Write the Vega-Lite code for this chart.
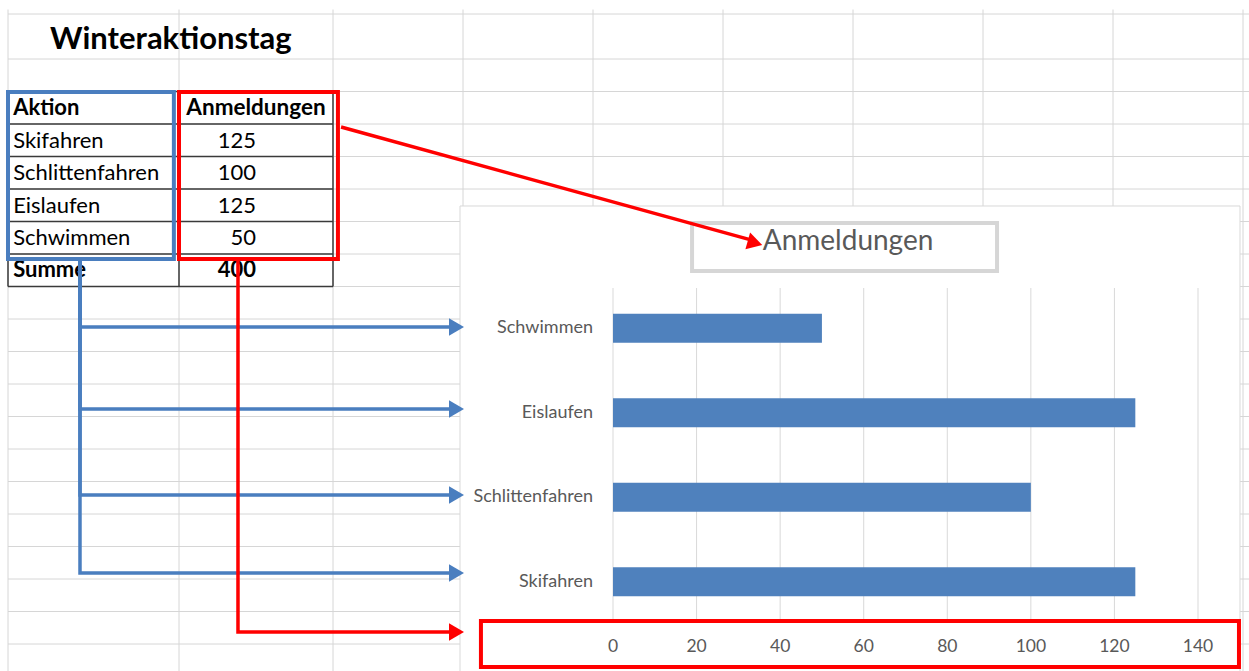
{
  "$schema": "https://vega.github.io/schema/vega-lite/v6.json",
  "width": 1249,
  "height": 671,
  "autosize": "none",
  "padding": 0,
  "background": "white",
  "config": {"view": {"stroke": null}, "axis": {"disable": true}, "font": "Lato"},
  "datasets": {
    "aktionen": [
      {"Aktion": "Skifahren", "Anmeldungen": 125, "Zeile": 4},
      {"Aktion": "Schlittenfahren", "Anmeldungen": 100, "Zeile": 5},
      {"Aktion": "Eislaufen", "Anmeldungen": 125, "Zeile": 6},
      {"Aktion": "Schwimmen", "Anmeldungen": 50, "Zeile": 7}
    ],
    "zeilen": [{"r": 0}, {"r": 1}, {"r": 2}, {"r": 3}, {"r": 4}, {"r": 5}, {"r": 6}, {"r": 7}, {"r": 8}, {"r": 9}, {"r": 10}, {"r": 11}, {"r": 12}, {"r": 13}, {"r": 14}, {"r": 15}, {"r": 16}, {"r": 17}, {"r": 18}, {"r": 19}, {"r": 20}],
    "spalten": [{"c": 0}, {"c": 1}, {"c": 2}, {"c": 3}, {"c": 4}, {"c": 5}, {"c": 6}, {"c": 7}, {"c": 8}, {"c": 9}],
    "skala": [{"v": 0}, {"v": 20}, {"v": 40}, {"v": 60}, {"v": 80}, {"v": 100}, {"v": 120}, {"v": 140}],
    "pfeile": [
      {"pfeil": "b1", "gruppe": "Aktion", "i": 1, "c": 0.421, "r": 7.19},
      {"pfeil": "b1", "gruppe": "Aktion", "i": 2, "c": 0.421, "r": 9.246},
      {"pfeil": "b1", "gruppe": "Aktion", "i": 3, "c": 2.915, "r": 9.246},
      {"pfeil": "b2", "gruppe": "Aktion", "i": 1, "c": 0.421, "r": 7.19},
      {"pfeil": "b2", "gruppe": "Aktion", "i": 2, "c": 0.421, "r": 11.769},
      {"pfeil": "b2", "gruppe": "Aktion", "i": 3, "c": 2.915, "r": 11.769},
      {"pfeil": "b3", "gruppe": "Aktion", "i": 1, "c": 0.421, "r": 7.19},
      {"pfeil": "b3", "gruppe": "Aktion", "i": 2, "c": 0.421, "r": 14.415},
      {"pfeil": "b3", "gruppe": "Aktion", "i": 3, "c": 2.915, "r": 14.415},
      {"pfeil": "b4", "gruppe": "Aktion", "i": 1, "c": 0.421, "r": 7.19},
      {"pfeil": "b4", "gruppe": "Aktion", "i": 2, "c": 0.421, "r": 16.815},
      {"pfeil": "b4", "gruppe": "Aktion", "i": 3, "c": 2.915, "r": 16.815},
      {"pfeil": "r1", "gruppe": "Anmeldungen", "i": 1, "c": 1.383, "r": 7.19},
      {"pfeil": "r1", "gruppe": "Anmeldungen", "i": 2, "c": 1.383, "r": 18.63},
      {"pfeil": "r1", "gruppe": "Anmeldungen", "i": 3, "c": 2.915, "r": 18.63},
      {"pfeil": "r2", "gruppe": "Anmeldungen", "i": 1, "c": 2.062, "r": 3.092},
      {"pfeil": "r2", "gruppe": "Anmeldungen", "i": 2, "c": 5.2, "r": 6.55}
    ],
    "spitzen": [
      {"gruppe": "Aktion", "c": 2.95, "r": 9.246, "winkel": 0},
      {"gruppe": "Aktion", "c": 2.95, "r": 11.769, "winkel": 0},
      {"gruppe": "Aktion", "c": 2.95, "r": 14.415, "winkel": 0},
      {"gruppe": "Aktion", "c": 2.95, "r": 16.815, "winkel": 0},
      {"gruppe": "Anmeldungen", "c": 2.95, "r": 18.63, "winkel": 0},
      {"gruppe": "Anmeldungen", "c": 5.246, "r": 6.66, "winkel": 15.7}
    ],
    "rahmen": [
      {"gruppe": "Aktion", "c1": 0.0, "c2": 0.97, "r1": 2.015, "r2": 7.154},
      {"gruppe": "Anmeldungen", "c1": 1.0, "c2": 2.038, "r1": 2.015, "r2": 7.154},
      {"gruppe": "Anmeldungen", "c1": 3.138, "c2": 8.969, "r1": 18.29, "r2": 19.71}
    ]
  },
  "resolve": {"scale": {"x": "independent", "y": "independent"}},
  "layer": [
    {
      "data": {"name": "zeilen"},
      "mark": {"type": "rule", "color": "#d6d6d6", "strokeWidth": 1},
      "encoding": {
        "y": {"field": "r", "type": "quantitative", "scale": {"domain": [0, 1, 20], "range": [14, 59, 676.5], "nice": false, "zero": false}},
        "x": {"datum": 0, "type": "quantitative", "scale": {"domain": [0, 1, 2, 10], "range": [8, 179, 333, 1373], "nice": false, "zero": false}},
        "x2": {"datum": 9.1}
      }
    },
    {
      "data": {"name": "spalten"},
      "mark": {"type": "rule", "color": "#d6d6d6", "strokeWidth": 1},
      "encoding": {
        "x": {"field": "c", "type": "quantitative", "scale": {"domain": [0, 1, 2, 10], "range": [8, 179, 333, 1373], "nice": false, "zero": false}},
        "y": {"datum": -0.1, "type": "quantitative", "scale": {"domain": [0, 1, 20], "range": [14, 59, 676.5], "nice": false, "zero": false}},
        "y2": {"datum": 20.5}
      }
    },
    {
      "data": {"name": "zeilen"},
      "transform": [{"filter": "datum.r >= 2 && datum.r <= 8"}],
      "mark": {"type": "rule", "color": "#3a3a3a", "strokeWidth": 1.5},
      "encoding": {
        "y": {"field": "r", "type": "quantitative", "scale": {"domain": [0, 1, 20], "range": [14, 59, 676.5], "nice": false, "zero": false}},
        "x": {"datum": 0, "type": "quantitative", "scale": {"domain": [0, 1, 2, 10], "range": [8, 179, 333, 1373], "nice": false, "zero": false}},
        "x2": {"datum": 2}
      }
    },
    {
      "data": {"name": "spalten"},
      "transform": [{"filter": "datum.c <= 2"}],
      "mark": {"type": "rule", "color": "#3a3a3a", "strokeWidth": 1.5},
      "encoding": {
        "x": {"field": "c", "type": "quantitative", "scale": {"domain": [0, 1, 2, 10], "range": [8, 179, 333, 1373], "nice": false, "zero": false}},
        "y": {"datum": 2, "type": "quantitative", "scale": {"domain": [0, 1, 20], "range": [14, 59, 676.5], "nice": false, "zero": false}},
        "y2": {"datum": 8}
      }
    },
    {
      "data": {"values": [{}]},
      "mark": {"type": "text", "text": "Winteraktionstag", "fontSize": 31, "fontWeight": "bold", "align": "left", "baseline": "middle", "color": "#000000"},
      "encoding": {
        "x": {"datum": 0.2456, "type": "quantitative", "scale": {"domain": [0, 1, 2, 10], "range": [8, 179, 333, 1373], "nice": false, "zero": false}},
        "y": {"datum": 0.57, "type": "quantitative", "scale": {"domain": [0, 1, 20], "range": [14, 59, 676.5], "nice": false, "zero": false}}
      }
    },
    {
      "data": {"values": [{}]},
      "mark": {"type": "text", "text": "Aktion", "fontSize": 22, "fontWeight": "bold", "align": "left", "baseline": "middle", "color": "#000000"},
      "encoding": {
        "x": {"datum": 0.03, "type": "quantitative", "scale": {"domain": [0, 1, 2, 10], "range": [8, 179, 333, 1373], "nice": false, "zero": false}},
        "y": {"datum": 2.5, "type": "quantitative", "scale": {"domain": [0, 1, 20], "range": [14, 59, 676.5], "nice": false, "zero": false}}
      }
    },
    {
      "data": {"values": [{}]},
      "mark": {"type": "text", "text": "Anmeldungen", "fontSize": 22.5, "fontWeight": "bold", "align": "center", "baseline": "middle", "color": "#000000"},
      "encoding": {
        "x": {"datum": 1.5, "type": "quantitative", "scale": {"domain": [0, 1, 2, 10], "range": [8, 179, 333, 1373], "nice": false, "zero": false}},
        "y": {"datum": 2.5, "type": "quantitative", "scale": {"domain": [0, 1, 20], "range": [14, 59, 676.5], "nice": false, "zero": false}}
      }
    },
    {
      "data": {"name": "aktionen"},
      "mark": {"type": "text", "fontSize": 22, "align": "left", "baseline": "middle", "dy": -16, "color": "#000000"},
      "encoding": {
        "text": {"field": "Aktion"},
        "x": {"datum": 0.03, "type": "quantitative", "scale": {"domain": [0, 1, 2, 10], "range": [8, 179, 333, 1373], "nice": false, "zero": false}},
        "y": {"field": "Zeile", "type": "quantitative", "scale": {"domain": [0, 1, 20], "range": [14, 59, 676.5], "nice": false, "zero": false}}
      }
    },
    {
      "data": {"name": "aktionen"},
      "mark": {"type": "text", "fontSize": 22, "align": "right", "baseline": "middle", "dy": -16, "color": "#000000"},
      "encoding": {
        "text": {"field": "Anmeldungen"},
        "x": {"datum": 1.5, "type": "quantitative", "scale": {"domain": [0, 1, 2, 10], "range": [8, 179, 333, 1373], "nice": false, "zero": false}},
        "y": {"field": "Zeile", "type": "quantitative", "scale": {"domain": [0, 1, 20], "range": [14, 59, 676.5], "nice": false, "zero": false}}
      }
    },
    {
      "data": {"values": [{}]},
      "mark": {"type": "text", "text": "Summe", "fontSize": 22, "fontWeight": "bold", "align": "left", "baseline": "middle", "color": "#000000"},
      "encoding": {
        "x": {"datum": 0.03, "type": "quantitative", "scale": {"domain": [0, 1, 2, 10], "range": [8, 179, 333, 1373], "nice": false, "zero": false}},
        "y": {"datum": 7.5, "type": "quantitative", "scale": {"domain": [0, 1, 20], "range": [14, 59, 676.5], "nice": false, "zero": false}}
      }
    },
    {
      "data": {"name": "aktionen"},
      "transform": [{"aggregate": [{"op": "sum", "field": "Anmeldungen", "as": "Summe"}]}],
      "mark": {"type": "text", "fontSize": 22, "fontWeight": "bold", "align": "right", "baseline": "middle", "color": "#000000"},
      "encoding": {
        "text": {"field": "Summe"},
        "x": {"datum": 1.5, "type": "quantitative", "scale": {"domain": [0, 1, 2, 10], "range": [8, 179, 333, 1373], "nice": false, "zero": false}},
        "y": {"datum": 7.5, "type": "quantitative", "scale": {"domain": [0, 1, 20], "range": [14, 59, 676.5], "nice": false, "zero": false}}
      }
    },
    {
      "data": {"values": [{}]},
      "mark": {"type": "rect", "fill": "#ffffff", "stroke": "#d9d9d9", "strokeWidth": 1},
      "encoding": {
        "x": {"datum": 2.977, "type": "quantitative", "scale": {"domain": [0, 1, 2, 10], "range": [8, 179, 333, 1373], "nice": false, "zero": false}},
        "x2": {"datum": 8.977},
        "y": {"datum": 5.523, "type": "quantitative", "scale": {"domain": [0, 1, 20], "range": [14, 59, 676.5], "nice": false, "zero": false}},
        "y2": {"datum": 20.5}
      }
    },
    {
      "data": {"name": "skala"},
      "mark": {"type": "rule", "color": "#d9d9d9", "strokeWidth": 1},
      "encoding": {
        "x": {"field": "v", "type": "quantitative", "scale": {"domain": [0, 140], "range": [613, 1198], "nice": false, "zero": false}},
        "y": {"datum": 8.046, "type": "quantitative", "scale": {"domain": [0, 1, 20], "range": [14, 59, 676.5], "nice": false, "zero": false}},
        "y2": {"datum": 18.26}
      }
    },
    {
      "data": {"name": "skala"},
      "mark": {"type": "text", "fontSize": 17.5, "align": "center", "baseline": "middle", "color": "#595959"},
      "encoding": {
        "text": {"field": "v"},
        "x": {"field": "v", "type": "quantitative", "scale": {"domain": [0, 140], "range": [613, 1198], "nice": false, "zero": false}},
        "y": {"datum": 19.09, "type": "quantitative", "scale": {"domain": [0, 1, 20], "range": [14, 59, 676.5], "nice": false, "zero": false}}
      }
    },
    {
      "data": {"values": [{}]},
      "mark": {"type": "rect", "filled": false, "stroke": "#d6d6d6", "strokeWidth": 4},
      "encoding": {
        "x": {"datum": 4.762, "type": "quantitative", "scale": {"domain": [0, 1, 2, 10], "range": [8, 179, 333, 1373], "nice": false, "zero": false}},
        "x2": {"datum": 7.108},
        "y": {"datum": 6.046, "type": "quantitative", "scale": {"domain": [0, 1, 20], "range": [14, 59, 676.5], "nice": false, "zero": false}},
        "y2": {"datum": 7.523}
      }
    },
    {
      "data": {"values": [{}]},
      "mark": {"type": "text", "text": "Anmeldungen", "fontSize": 28, "align": "center", "baseline": "middle", "color": "#595959"},
      "encoding": {
        "x": {"datum": 5.962, "type": "quantitative", "scale": {"domain": [0, 1, 2, 10], "range": [8, 179, 333, 1373], "nice": false, "zero": false}},
        "y": {"datum": 6.63, "type": "quantitative", "scale": {"domain": [0, 1, 20], "range": [14, 59, 676.5], "nice": false, "zero": false}}
      }
    },
    {
      "data": {"name": "aktionen"},
      "mark": {"type": "bar", "color": "#4f81bd"},
      "encoding": {
        "x": {"field": "Anmeldungen", "type": "quantitative", "scale": {"domain": [0, 140], "range": [613, 1198], "nice": false, "zero": false}},
        "y": {"field": "Aktion", "type": "nominal", "scale": {"type": "band", "domain": ["Schwimmen", "Eislaufen", "Schlittenfahren", "Skifahren"], "range": [286, 624], "paddingInner": 0.657, "paddingOuter": 0.3285}}
      }
    },
    {
      "data": {"name": "aktionen"},
      "mark": {"type": "text", "fontSize": 18, "align": "right", "baseline": "middle", "dx": -20, "color": "#595959"},
      "encoding": {
        "text": {"field": "Aktion"},
        "x": {"datum": 0, "type": "quantitative", "scale": {"domain": [0, 140], "range": [613, 1198], "nice": false, "zero": false}},
        "y": {"field": "Aktion", "type": "nominal", "scale": {"type": "band", "domain": ["Schwimmen", "Eislaufen", "Schlittenfahren", "Skifahren"], "range": [286, 624], "paddingInner": 0.657, "paddingOuter": 0.3285}}
      }
    },
    {
      "data": {"name": "rahmen"},
      "mark": {"type": "rect", "filled": false, "strokeWidth": 4, "opacity": 1},
      "encoding": {
        "x": {"field": "c1", "type": "quantitative", "scale": {"domain": [0, 1, 2, 10], "range": [8, 179, 333, 1373], "nice": false, "zero": false}},
        "x2": {"field": "c2"},
        "y": {"field": "r1", "type": "quantitative", "scale": {"domain": [0, 1, 20], "range": [14, 59, 676.5], "nice": false, "zero": false}},
        "y2": {"field": "r2"},
        "color": {"field": "gruppe", "type": "nominal", "scale": {"domain": ["Aktion", "Anmeldungen"], "range": ["#4a7ebf", "#ff0000"]}, "legend": null}
      }
    },
    {
      "data": {"name": "pfeile"},
      "mark": {"type": "line", "strokeWidth": 3.5, "strokeJoin": "miter", "strokeCap": "butt"},
      "encoding": {
        "x": {"field": "c", "type": "quantitative", "scale": {"domain": [0, 1, 2, 10], "range": [8, 179, 333, 1373], "nice": false, "zero": false}},
        "y": {"field": "r", "type": "quantitative", "scale": {"domain": [0, 1, 20], "range": [14, 59, 676.5], "nice": false, "zero": false}},
        "detail": {"field": "pfeil"},
        "order": {"field": "i", "type": "quantitative"},
        "color": {"field": "gruppe", "type": "nominal", "scale": {"domain": ["Aktion", "Anmeldungen"], "range": ["#4a7ebf", "#ff0000"]}, "legend": null}
      }
    },
    {
      "data": {"name": "spitzen"},
      "mark": {"type": "point", "filled": true, "shape": "triangle-right", "size": 300, "opacity": 1},
      "encoding": {
        "x": {"field": "c", "type": "quantitative", "scale": {"domain": [0, 1, 2, 10], "range": [8, 179, 333, 1373], "nice": false, "zero": false}},
        "y": {"field": "r", "type": "quantitative", "scale": {"domain": [0, 1, 20], "range": [14, 59, 676.5], "nice": false, "zero": false}},
        "angle": {"field": "winkel", "type": "quantitative", "scale": null},
        "color": {"field": "gruppe", "type": "nominal", "scale": {"domain": ["Aktion", "Anmeldungen"], "range": ["#4a7ebf", "#ff0000"]}, "legend": null}
      }
    }
  ]
}
